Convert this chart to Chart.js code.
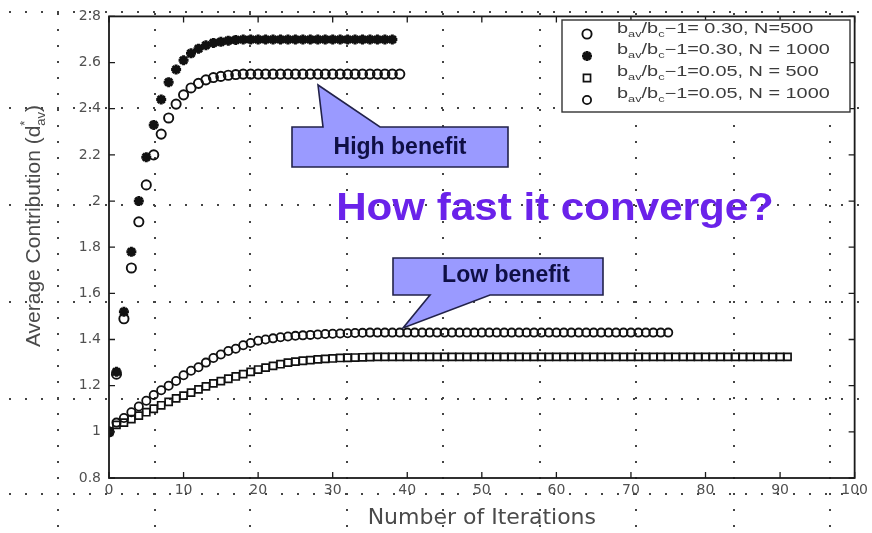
<!DOCTYPE html>
<html>
<head>
<meta charset="utf-8">
<script src="https://cdn.jsdelivr.net/npm/chart.js@4.4.0/dist/chart.umd.min.js"></script>
<style>
  html, body { margin: 0; padding: 0; background: #fff; }
  #wrap { position: relative; width: 872px; height: 533px; }
</style>
</head>
<body>
<div id="wrap"><canvas id="chart" width="872" height="533"></canvas></div>
<script>
// iteration ticks and contribution ticks
const iterTicks = [0, 10, 20, 30, 40, 50, 60, 70, 80, 90, 100];
const contribTicks = [0.8, 1.0, 1.2, 1.4, 1.6, 1.8, 2.0, 2.2, 2.4, 2.6, 2.8];

// average contribution per iteration (index = iteration number)
const highN500 = [
  1.00, 1.25, 1.49, 1.71, 1.91, 2.07, 2.20, 2.29, 2.36, 2.42,
  2.46, 2.49, 2.51, 2.525, 2.535, 2.54, 2.545, 2.548, 2.55, 2.55,
  2.55, 2.55, 2.55, 2.55, 2.55, 2.55, 2.55, 2.55, 2.55, 2.55,
  2.55, 2.55, 2.55, 2.55, 2.55, 2.55, 2.55, 2.55, 2.55, 2.55
];
const highN1000 = [
  1.00, 1.26, 1.52, 1.78, 2.00, 2.19, 2.33, 2.44, 2.515, 2.57,
  2.61, 2.64, 2.66, 2.675, 2.685, 2.69, 2.695, 2.698, 2.70, 2.70,
  2.70, 2.70, 2.70, 2.70, 2.70, 2.70, 2.70, 2.70, 2.70, 2.70,
  2.70, 2.70, 2.70, 2.70, 2.70, 2.70, 2.70, 2.70, 2.70
];
const lowN500 = [
  1.00, 1.03, 1.04, 1.055, 1.07, 1.085, 1.10, 1.115, 1.13, 1.145,
  1.157, 1.17, 1.184, 1.197, 1.21, 1.22, 1.23, 1.24, 1.25, 1.26,
  1.27, 1.278, 1.286, 1.293, 1.30, 1.304, 1.308, 1.311, 1.314, 1.316,
  1.318, 1.32, 1.321, 1.322, 1.323, 1.324, 1.325, 1.325, 1.325, 1.325,
  1.325, 1.325, 1.325, 1.325, 1.325, 1.325, 1.325, 1.325, 1.325, 1.325,
  1.325, 1.325, 1.325, 1.325, 1.325, 1.325, 1.325, 1.325, 1.325, 1.325,
  1.325, 1.325, 1.325, 1.325, 1.325, 1.325, 1.325, 1.325, 1.325, 1.325,
  1.325, 1.325, 1.325, 1.325, 1.325, 1.325, 1.325, 1.325, 1.325, 1.325,
  1.325, 1.325, 1.325, 1.325, 1.325, 1.325, 1.325, 1.325, 1.325, 1.325,
  1.325, 1.325
];
const lowN1000 = [
  1.00, 1.04, 1.06, 1.085, 1.11, 1.135, 1.16, 1.18, 1.20, 1.22,
  1.245, 1.265, 1.28, 1.30, 1.32, 1.335, 1.35, 1.36, 1.375, 1.385,
  1.395, 1.40, 1.405, 1.41, 1.413, 1.416, 1.418, 1.42, 1.422, 1.424,
  1.425, 1.426, 1.427, 1.428, 1.429, 1.43, 1.43, 1.43, 1.43, 1.43,
  1.43, 1.43, 1.43, 1.43, 1.43, 1.43, 1.43, 1.43, 1.43, 1.43,
  1.43, 1.43, 1.43, 1.43, 1.43, 1.43, 1.43, 1.43, 1.43, 1.43,
  1.43, 1.43, 1.43, 1.43, 1.43, 1.43, 1.43, 1.43, 1.43, 1.43,
  1.43, 1.43, 1.43, 1.43, 1.43, 1.43
];

// legend text after "b_av/b_c"
const legendTails = ['\u22121= 0.30, N=500', '\u22121=0.30, N = 1000', '\u22121=0.05, N = 500', '\u22121=0.05, N = 1000'];

const toPoints = arr => arr.map((v, i) => ({ x: i, y: v }));

const FONT = '"Liberation Sans", Arial, sans-serif';
const TEXT = '#3c3c3c';

const markerStyles = [
  { pointStyle: 'circle', pointRadius: 4.6, pointBorderWidth: 1.9 },
  { pointStyle: 'star', pointRadius: 5, pointBorderWidth: 3 },
  { pointStyle: 'rect', pointRadius: 5, pointBorderWidth: 1.7 },
  { pointStyle: 'circle', pointRadius: 4.1, pointBorderWidth: 1.8 }
];

function richText(ctx, parts, x, y, sx) {
  ctx.save();
  ctx.translate(x, y);
  ctx.scale(sx, 1);
  let cx = 0;
  parts.forEach(p => {
    ctx.font = p.font;
    ctx.fillText(p.t, cx, p.dy || 0);
    cx += ctx.measureText(p.t).width;
  });
  ctx.restore();
}

function marker(ctx, st, x, y) {
  ctx.save();
  ctx.strokeStyle = '#111';
  ctx.fillStyle = 'rgba(255,255,255,0)';
  ctx.lineWidth = st.pointBorderWidth;
  Chart.helpers.drawPoint(ctx, {
    pointStyle: st.pointStyle, radius: st.pointRadius, rotation: 0, borderWidth: st.pointBorderWidth
  }, x, y);
  ctx.restore();
}

// dotted slide grid behind the figure
const slideDots = {
  id: 'slideDots',
  beforeDraw(chart) {
    const ctx = chart.ctx;
    ctx.save();
    ctx.fillStyle = '#444';
    [58, 155, 250, 347, 443, 540, 636, 734, 830].forEach(cx => {
      for (let y = 13 - 16; y < 533; y += 16) ctx.fillRect(cx - 1, y, 2, 2);
    });
    [12, 108, 205, 302, 399, 494].forEach(cy => {
      for (let x = 9; x < 872; x += 16) ctx.fillRect(x, cy - 1, 2, 2);
    });
    ctx.restore();
  }
};

// matlab-like frame with inward ticks
const frame = {
  id: 'frame',
  afterDatasetsDraw(chart) {
    const { ctx, chartArea: { left, right, top, bottom }, scales: { x, y } } = chart;
    ctx.save();
    ctx.strokeStyle = '#1a1a1a';
    ctx.lineWidth = 1.8;
    ctx.strokeRect(left, top, right - left, bottom - top);
    ctx.lineWidth = 1.3;
    ctx.beginPath();
    iterTicks.forEach(v => {
      const px = x.getPixelForValue(v);
      ctx.moveTo(px, bottom); ctx.lineTo(px, bottom - 6);
      ctx.moveTo(px, top); ctx.lineTo(px, top + 6);
    });
    contribTicks.forEach(v => {
      const py = y.getPixelForValue(v);
      ctx.moveTo(left, py); ctx.lineTo(left + 6, py);
      ctx.moveTo(right, py); ctx.lineTo(right - 6, py);
    });
    ctx.stroke();
    ctx.restore();
  }
};

function callout(ctx, pts, text, tx, ty) {
  ctx.save();
  ctx.beginPath();
  pts.forEach((p, i) => i ? ctx.lineTo(p[0], p[1]) : ctx.moveTo(p[0], p[1]));
  ctx.closePath();
  ctx.fillStyle = '#9a9aff';
  ctx.fill();
  ctx.strokeStyle = '#22224a';
  ctx.lineWidth = 1.6;
  ctx.stroke();
  ctx.fillStyle = '#0f0f45';
  ctx.font = 'bold 23px ' + FONT;
  ctx.textAlign = 'center';
  ctx.textBaseline = 'middle';
  ctx.fillText(text, tx, ty);
  ctx.restore();
}

const overlay = {
  id: 'overlay',
  afterDraw(chart) {
    const ctx = chart.ctx;

    // legend box
    ctx.save();
    ctx.fillStyle = '#fff';
    ctx.fillRect(562, 20, 288, 92);
    ctx.strokeStyle = '#333';
    ctx.lineWidth = 1.4;
    ctx.strokeRect(562, 20, 288, 92);
    const rows = [33, 54, 76, 98];
    const mk = [34, 56, 78, 100];
    const main = '14px ' + FONT, sub = '9px ' + FONT;
    legendTails.forEach((tail, i) => {
      marker(ctx, markerStyles[i], 587, mk[i]);
      ctx.fillStyle = TEXT;
      richText(ctx, [
        { t: 'b', font: main },
        { t: 'av', font: sub, dy: 4 },
        { t: '/b', font: main },
        { t: 'c', font: sub, dy: 4 },
        { t: tail, font: main }
      ], 617, rows[i], 1.42);
    });
    ctx.restore();

    // y-axis title with super/subscript
    ctx.save();
    ctx.translate(33, 226);
    ctx.rotate(-Math.PI / 2);
    ctx.fillStyle = '#4a4a4a';
    const big = '21px ' + FONT, small = '13px ' + FONT;
    ctx.font = big;
    const w1 = ctx.measureText('Average Contribution (d').width;
    const w3 = ctx.measureText(')').width;
    ctx.font = small;
    const w2 = ctx.measureText('av').width;
    const x0 = -(w1 + w2 + w3) / 2;
    ctx.font = big; ctx.fillText('Average Contribution (d', x0, 7);
    ctx.font = small; ctx.fillText('*', x0 + w1, -4); ctx.fillText('av', x0 + w1, 12);
    ctx.font = big; ctx.fillText(')', x0 + w1 + w2, 7);
    ctx.restore();

    // callouts
    callout(ctx, [[292, 127], [323, 127], [318, 85], [380, 127], [508, 127], [508, 167], [292, 167]],
      'High benefit', 400, 148);
    callout(ctx, [[393, 258], [603, 258], [603, 295], [490, 295], [403, 328], [430, 295], [393, 295]],
      'Low benefit', 506, 276);

    // question
    ctx.save();
    ctx.fillStyle = '#6a22ea';
    ctx.font = 'bold 39px ' + FONT;
    ctx.textAlign = 'center';
    ctx.textBaseline = 'alphabetic';
    ctx.translate(555, 220);
    ctx.scale(1.08, 1);
    ctx.fillText('How fast it converge?', 0, 0);
    ctx.restore();
  }
};

const labels = legendTails.map(t => 'b_av/b_c' + t);
const series = [highN500, highN1000, lowN500, lowN1000];

new Chart(document.getElementById('chart'), {
  type: 'scatter',
  data: {
    datasets: series.map((s, i) => ({
      label: labels[i],
      data: toPoints(s),
      showLine: false,
      pointStyle: markerStyles[i].pointStyle,
      pointRadius: markerStyles[i].pointRadius,
      pointBorderWidth: markerStyles[i].pointBorderWidth,
      pointBorderColor: '#111',
      pointBackgroundColor: 'rgba(255,255,255,0)'
    }))
  },
  options: {
    responsive: false,
    animation: false,
    devicePixelRatio: 1,
    events: [],
    layout: { padding: { left: 0, top: 13, right: 16, bottom: 0 } },
    plugins: { legend: { display: false }, tooltip: { enabled: false } },
    scales: {
      x: {
        type: 'linear', min: 0, max: 100,
        afterFit: s => { s.height = 55; },
        grid: { display: false, drawTicks: false },
        border: { display: false },
        ticks: {
          stepSize: 10, padding: 4, color: '#505050',
          font: { family: '"DejaVu Sans", sans-serif', size: 14 }
        },
        title: {
          display: true, text: 'Number of Iterations', color: '#4a4a4a',
          font: { family: '"DejaVu Sans", sans-serif', size: 22 },
          padding: { top: 0, bottom: 2 }
        }
      },
      y: {
        type: 'linear', min: 0.8, max: 2.8,
        afterFit: s => { s.width = 109; },
        grid: { display: false, drawTicks: false },
        border: { display: false },
        ticks: {
          stepSize: 0.2, padding: 8, color: '#505050',
          font: { family: '"DejaVu Sans", sans-serif', size: 14 },
          callback: v => String(+v.toFixed(1))
        }
      }
    }
  },
  plugins: [slideDots, frame, overlay]
});
</script>
</body>
</html>
